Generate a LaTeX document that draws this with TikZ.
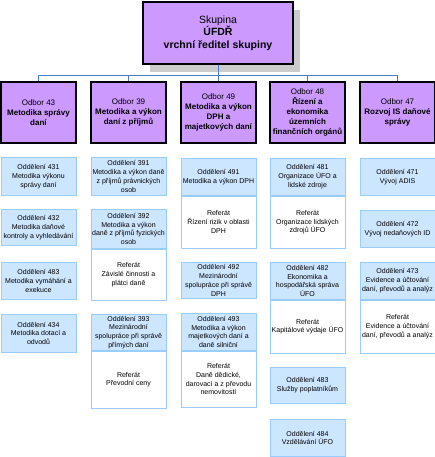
\documentclass[tikz,border=0pt]{standalone}
\usepackage{fontspec}
\setmainfont{Liberation Sans}
\usetikzlibrary{positioning}
\definecolor{odborfill}{HTML}{CC99FF}
\definecolor{oddfill}{HTML}{CCE6FF}
\definecolor{oddedge}{HTML}{99CCFF}
\definecolor{linkblue}{HTML}{4A7EC9}
\definecolor{shadowgrey}{HTML}{CCCCCC}

\begin{document}
\begin{tikzpicture}[
  x=1pt,
  y=-1pt,
  every node/.style={inner sep=0pt,align=center},
  skupina/.style={draw=black,line width=1.4pt,fill=odborfill,minimum width=150pt,minimum height=62pt,font=\fontsize{10.5}{12.5}\selectfont},
  odbor/.style={draw=black,line width=1.6pt,fill=odborfill,minimum width=75pt,minimum height=61pt,font=\fontsize{8}{10}\selectfont},
  oddeleni/.style={draw=oddedge,line width=0.8pt,fill=oddfill,minimum width=75pt,anchor=north,font=\fontsize{7}{8.8}\selectfont},
  referat/.style={draw=oddedge,line width=0.8pt,fill=white,minimum width=75pt,font=\fontsize{7}{8.8}\selectfont},
  link/.style={draw=linkblue,line width=0.8pt}
]
  \useasboundingbox (0,0) rectangle (435,457);

  % Head of the group with its grey drop shadow.
  \fill[shadowgrey] (150,10) rectangle (300,72);
  \node[skupina] (skupina) at (218,33) {Skupina\\\textbf{ÚFDŘ}\\\textbf{vrchní ředitel skupiny}};

  % Departments (odbory), one per column.
  \node[odbor] (o43) at (38.5,112.5) {Odbor 43\\\textbf{Metodika správy}\\\textbf{daní}};
  \node[odbor] (o39) at (128.5,112.5) {Odbor 39\\\textbf{Metodika a výkon}\\\textbf{daní z příjmů}};
  \node[odbor] (o49) at (218.5,112.5) {Odbor 49\\\textbf{Metodika a výkon}\\\textbf{DPH a}\\\textbf{majetkových daní}};
  \node[odbor] (o48) at (307.5,112.5) {Odbor 48\\\textbf{Řízení a}\\\textbf{ekonomika}\\\textbf{územních}\\\textbf{finančních orgánů}};
  \node[odbor] (o47) at (397.5,112.5) {Odbor 47\\\textbf{Rozvoj IS daňové}\\\textbf{správy}};

  \foreach \n in {o43,o39,o49,o48,o47} {
    \draw[link] (skupina.south) -- ++(0,11) -| (\n.north);
  }

  % Units (oddělení): name / column centre / top / height / text.
  \foreach \n/\c/\t/\h/\txt in {
    d431/38.5/157/38/{Oddělení 431\\Metodika výkonu\\správy daní},
    d432/38.5/209/36/{Oddělení 432\\Metodika daňové\\kontroly a vyhledávání},
    d483a/38.5/262/37/{Oddělení 483\\Metodika vymáhání a\\exekuce},
    d434/38.5/314/38/{Oddělení 434\\Metodika dotací a\\odvodů},
    d391/128.5/157/38/{Oddělení 391\\Metodika a výkon daně\\z příjmů právnických\\osob},
    d392/128.5/209/39/{Oddělení 392\\Metodika a výkon\\daně z příjmů fyzických\\osob},
    d393/128.5/314/36/{Oddělení 393\\Mezinárodní\\spolupráce při správě\\přímých daní},
    d491/218.5/158/37/{Oddělení 491\\Metodika a výkon DPH},
    d492/218.5/262/36/{Oddělení 492\\Mezinárodní\\spolupráce při správě\\DPH},
    d493/218.5/313/37/{Oddělení 493\\Metodika a výkon\\majetkových daní a\\daně silniční},
    d481/307.5/158/37/{Oddělení 481\\Organizace ÚFO a\\lidské zdroje},
    d482/307.5/262/37/{Oddělení 482\\Ekonomika a\\hospodářská správa\\ÚFO},
    d483/307.5/367/36/{Oddělení 483\\Služby poplatníkům},
    d484/307.5/419/37/{Oddělení 484\\Vzdělávání ÚFO},
    d471/397.5/158/37/{Oddělení 471\\Vývoj ADIS},
    d472/397.5/210/37/{Oddělení 472\\Vývoj nedaňových ID},
    d473/397.5/262/37/{Oddělení 473\\Evidence a účtování\\daní, převodů a analýz}} {
    \node[oddeleni,minimum height=\h pt] (\n) at (\c,\t) {\txt};
  }

  % Sections (referáty) hanging under their unit.
  \foreach \n/\h/\txt in {
    d392/51/{Referát\\Závislé činnosti a\\plátci daně},
    d393/57/{Referát\\Převodní ceny},
    d491/52/{Referát\\Řízení rizik v oblasti\\DPH},
    d493/56/{Referát\\Daně dědické,\\darovací a z převodu\\nemovitostí},
    d481/52/{Referát\\Organizace lidských\\zdrojů ÚFO},
    d482/53/{Referát\\Kapitálové výdaje ÚFO},
    d473/53/{Referát\\Evidence a účtování\\daní, převodů a analýz}} {
    \node[referat,minimum height=\h pt,below=0pt of \n] (\n-ref) {\txt};
  }
\end{tikzpicture}
\end{document}
